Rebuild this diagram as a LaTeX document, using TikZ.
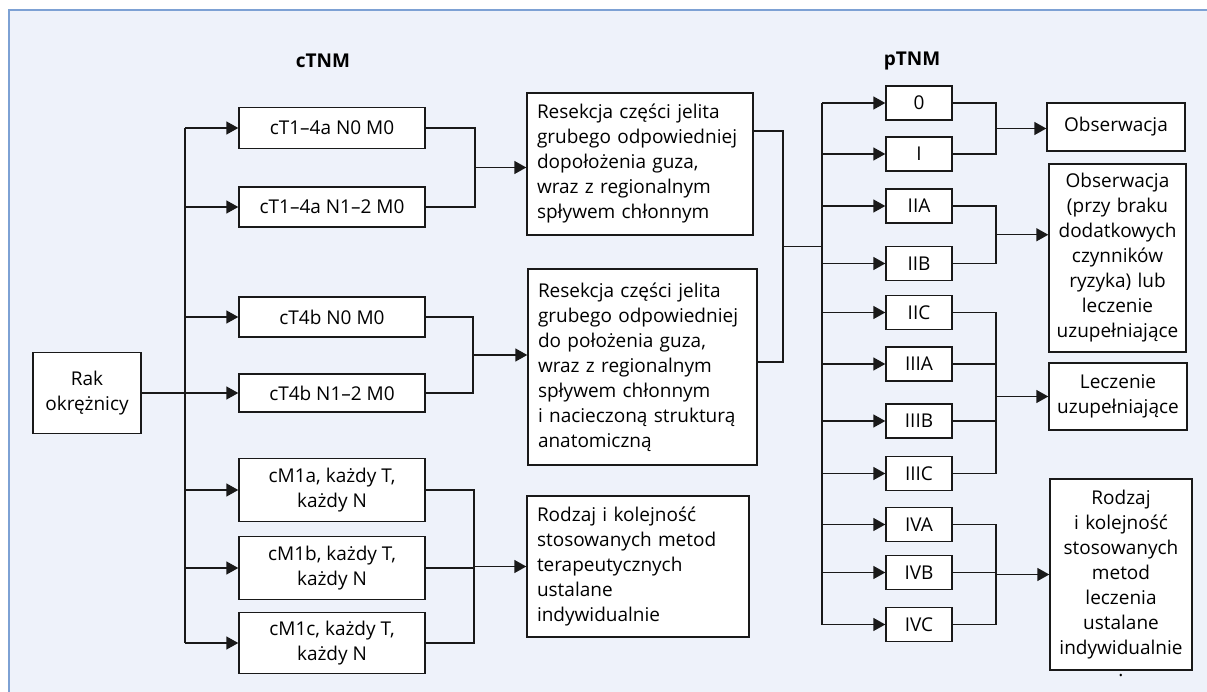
\documentclass[tikz,border=0pt]{standalone}
\usepackage{fontspec}
\setmainfont{Open Sans}
\usetikzlibrary{arrows.meta,calc}

\definecolor{panelblue}{RGB}{238,242,250}
\definecolor{rimblue}{RGB}{125,161,212}
\definecolor{ink}{RGB}{25,25,25}

\begin{document}
\begin{tikzpicture}[x=1pt, y=-1pt,
    box/.style={draw=ink, fill=white, line width=1.4pt, inner sep=0pt, align=center,
        font=\fontsize{19}{25}\selectfont},
    txtbox/.style={box, align=left, inner xsep=10pt},
    cbox/.style={box, minimum width=186pt},
    stage/.style={box, minimum width=66pt, minimum height=34pt},
    link/.style={draw=ink, line width=1.4pt},
    arr/.style={link, -{Triangle[length=12pt,width=13pt]}},
    title/.style={font=\fontsize{19}{25}\selectfont\bfseries}]
    % panel
    \useasboundingbox (0,0) rectangle (1207,692);
    \fill[panelblue] (9,10) rectangle (1207,692);
    \draw[rimblue, line width=1.5pt] (9,10) -- (1207,10);
    \draw[rimblue, line width=2.5pt] (9,9.3) -- (9,692);
    % headings
    \node[title] (ctnm) at (323,61) {cTNM};
    \node[title] (ptnm) at (912,61) {pTNM};
    % clinical stage
    \node[box, minimum width=108pt, minimum height=81pt] (rak) at (87,393) {Rak\\okrężnicy};
    \node[cbox, minimum height=41pt] (ca) at (332,128) {cT1–4a N0 M0};
    \node[cbox, minimum height=40pt] (cb) at (332,207) {cT1–4a N1–2 M0};
    \node[cbox, minimum height=40pt] (cc) at (332,317) {cT4b N0 M0};
    \node[cbox, minimum height=38pt] (cd) at (332,393) {cT4b N1–2 M0};
    \node[cbox, minimum height=63pt] (ce) at (332,490) {cM1a, każdy T,\\każdy N};
    \node[cbox, minimum height=63pt] (cf) at (332,568) {cM1b, każdy T,\\każdy N};
    \node[cbox, minimum height=61pt] (cg) at (332,643) {cM1c, każdy T,\\każdy N};
    % treatment
    \node[txtbox, text width=206pt, minimum height=142pt] (res1) at (640,164)
        {Resekcja części jelita\\grubego odpowiedniej\\dopołożenia guza,\\wraz z regionalnym\\spływem chłonnym};
    \node[txtbox, text width=209pt, minimum height=196pt] (res2) at (642.5,367)
        {Resekcja części jelita\\grubego odpowiedniej\\do położenia guza,\\wraz z regionalnym\\spływem chłonnym\\i nacieczoną strukturą\\anatomiczną};
    \node[txtbox, text width=202pt, minimum height=141pt] (rod) at (638,566.5)
        {Rodzaj i kolejność\\stosowanych metod\\terapeutycznych\\ustalane\\indywidualnie};
    % pathological stage
    \foreach \y/\n/\t in {103/s0/0, 154/sI/I, 206/sIIA/IIA, 263.5/sIIB/IIB, 312.5/sIIC/IIC,
        364/sIIIA/IIIA, 421/sIIIB/IIIB, 473.5/sIIIC/IIIC, 524.5/sIVA/IVA, 572.5/sIVB/IVB, 624.5/sIVC/IVC}
        \node[stage] (\n) at (919,\y) {\t};
    % follow-up
    \node[box, minimum width=138pt, minimum height=48pt] (obs) at (1116,127) {Obserwacja};
    \node[box, text width=137pt, minimum height=188pt] (obsr) at (1117.5,258)
        {Obserwacja\\(przy braku\\dodatkowych\\czynników\\ryzyka) lub\\leczenie\\uzupełniające};
    \node[box, text width=138pt, minimum height=67pt] (lecz) at (1118,396.5)
        {Leczenie\\uzupełniające};
    \node[box, text width=142pt, minimum height=191pt] (ind) at (1121,574.5)
        {Rodzaj\\i kolejność\\stosowanych\\metod\\leczenia\\ustalane\\indywidualnie};
    \node[font=\fontsize{19}{25}\selectfont, inner sep=0pt] (dot) at ($(ind.south)+(0,5)$) {.};
    % junction lines
    \coordinate (tr) at (185,0);
    \coordinate (ja) at (475,0);
    \coordinate (jb) at (473,0);
    \coordinate (jc) at (474,0);
    \coordinate (rj) at (783,0);
    \coordinate (pt) at (822,0);
    \coordinate (jr) at (996,0);
    % clinical branches
    \draw[link] (tr |- ca.west) -- (tr |- cg.west);
    \draw[arr] (rak.east) -- (cd.west);
    \foreach \n in {ca,cb,cc,ce,cf,cg}
        \draw[arr] (tr |- \n.west) -- (\n.west);
    % clinical to treatment
    \draw[link] (ca.east) -| (ja |- cb.east) -- (cb.east);
    \coordinate (ma) at ($(ca.east)!.5!(cb.east)$);
    \draw[arr] (ja |- ma) -- (ma -| res1.west);
    \draw[link] (cc.east) -| (jb |- cd.east) -- (cd.east);
    \coordinate (mb) at ($(cc.east)!.5!(cd.east)$);
    \draw[arr] (jb |- mb) -- (mb -| res2.west);
    \draw[link] (ce.east) -| (jc |- cg.east) -- (cg.east);
    \draw[link] (cf.east) -- (jc |- cf.east);
    \coordinate (mc) at ($(ce.east)!.5!(cg.east)$);
    \draw[arr] (jc |- mc) -- (mc -| rod.west);
    % resection to pTNM
    \coordinate (r1) at ($(res1.east)+(0,-33)$);
    \coordinate (r2) at ($(res2.east)+(0,-5)$);
    \draw[link] (r1) -| (rj |- r2) -- (r2);
    \coordinate (rm) at ($(r1)!.5!(r2)$);
    \draw[link] (rj |- rm) -- (pt |- rm);
    \draw[link] (pt |- s0.west) -- (pt |- sIVC.west);
    \foreach \n in {s0,sI,sIIA,sIIB,sIIC,sIIIA,sIIIB,sIIIC,sIVA,sIVB,sIVC}
        \draw[arr] (pt |- \n.west) -- (\n.west);
    % pTNM to follow-up
    \draw[link] (s0.east) -| (jr |- sI.east) -- (sI.east);
    \coordinate (m1) at ($(s0.east)!.5!(sI.east)$);
    \draw[arr] (jr |- m1) -- (m1 -| obs.west);
    \draw[link] (sIIA.east) -| (jr |- sIIB.east) -- (sIIB.east);
    \coordinate (m2) at ($(sIIA.east)!.5!(sIIB.east)$);
    \draw[arr] (jr |- m2) -- (m2 -| obsr.west);
    \draw[link] (sIIC.east) -| (jr |- sIIIC.east) -- (sIIIC.east);
    \draw[link] (sIIIA.east) -- (jr |- sIIIA.east);
    \draw[link] (sIIIB.east) -- (jr |- sIIIB.east);
    \coordinate (m3) at (jr |- lecz.west);
    \draw[arr] (m3) -- (lecz.west);
    \draw[link] (sIVA.east) -| (jr |- sIVC.east) -- (sIVC.east);
    \draw[link] (sIVB.east) -- (jr |- sIVB.east);
    \coordinate (m4) at ($(sIVA.east)!.5!(sIVC.east)$);
    \draw[arr] (jr |- m4) -- (m4 -| ind.west);
\end{tikzpicture}
\end{document}
